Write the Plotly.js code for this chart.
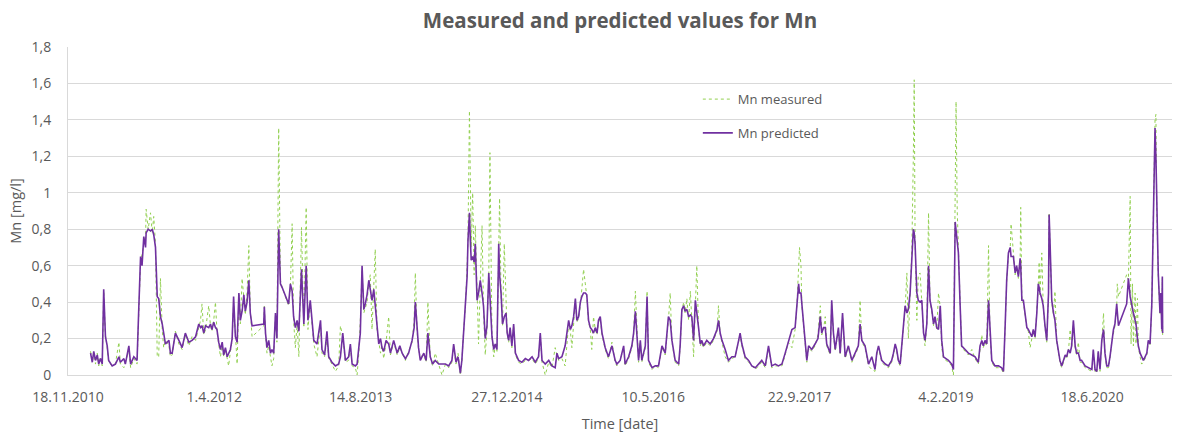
<!DOCTYPE html>
<html>
<head>
<meta charset="utf-8">
<script src="https://cdn.plot.ly/plotly-3.0.1.min.js"></script>
<style>
  html, body { margin: 0; padding: 0; background: #ffffff; }
  #chart { width: 1188px; height: 435px; }
</style>
</head>
<body>
<div id="chart"></div>
<script>
// Days since 18.11.2010 for each sample
const startDate = '2010-11-18';
const dayOffset = [
  77,83,88,94,100,105,111,117,122,128,134,139,151,162,174,179,191,196,208,214,225,236,242,248,253,259,265,267,274,282,288,293,299,305,310,316,322,327,333,345,350,356,367,379,390,401,413,424,436,447,
  453,458,464,470,481,487,492,498,504,509,515,521,527,532,538,544,549,555,561,566,572,578,584,589,595,601,606,612,618,623,629,669,671,675,680,686,692,697,703,709,714,720,726,732,754,760,766,771,777,783,789,798,806,814,820,828,834,840,851,863,868,877,885,891,902,914,925,
  931,939,948,959,965,971,982,988,994,999,1005,1011,1016,1022,1028,1033,1039,1045,1050,1056,1062,1068,1073,1079,1087,1096,1102,1113,1125,1134,1142,1153,1164,1176,1183,1187,1193,1198,1204,1216,1224,1230,1238,1246,1255,1267,1278,1290,1301,1312,1318,1326,1333,1341,1346,1352,1358,1364,1367,1372,1375,1378,1383,1388,
  1392,1398,1403,1409,1415,1420,1426,1432,1438,1442,1449,1455,1460,1466,1472,1475,1480,1485,1491,1497,1501,1506,1511,1517,1523,1529,1540,1551,1563,1574,1586,1597,1608,1614,1620,1631,1643,1654,1665,1671,1677,1688,1699,1711,1717,1722,1728,1734,1739,1745,1751,1756,1762,1768,1773,1779,1785,1790,1796,1802,1808,1813,1819,1825,1836,1847,1859,1870,
  1876,1887,1899,1904,1916,1927,1933,1939,1944,1950,1956,1961,1973,1979,1984,1996,2007,2018,2030,2041,2052,2058,2064,2075,2087,2092,2098,2104,2109,2115,2121,2127,2132,2138,2144,2149,2155,2161,2166,2172,2183,2195,2206,2218,2223,2229,2235,2246,2257,2269,2280,2292,2297,2303,2314,2326,2337,2349,
  2360,2371,2383,2394,2405,2417,2428,2440,2451,2462,2474,2485,2491,2497,2500,2505,2508,2514,2519,2525,2531,2542,2553,2563,2571,2576,2582,2588,2593,2605,2610,2616,2622,2627,2633,2639,2647,2656,2667,2679,2690,2701,2707,2713,2724,2736,2747,2758,2764,2770,2781,2793,2804,2815,2821,
  2827,2832,2838,2844,2850,2855,2861,2867,2872,2878,2884,2889,2892,2895,2901,2906,2912,2918,2924,2929,2935,2941,2946,2952,2958,2963,2969,2975,2981,2986,2992,3009,3020,3026,3032,3035,3039,3043,3049,3054,3066,3077,3089,3100,3111,3117,3123,3128,3134,3140,3146,3151,3157,3168,3180,3191,3197,3203,3208,3214,3220,3223,3231,3237,3242,3248,3254,3256,3260,3265,3271,3277,3282,3288,3294,3299,
  3305,3311,3316,3319,3322,3328,3333,3339,3345,3351,3353,3356,3362,3368,3373,3379,3385,3390,3396,3402,3408,3413,3419,3425,3430,3436,3442,3447,3453,3459,3464,3476,3487,3499,3504,3510,3516,3521,3527,3533,3539,3544,3550,3556,3561,3567,3573,3578,3584,3586,3590,3618,3624,3630,3633,3638,3641,3647,3650,3655,3658,3664,3669,3675,3681,3687,3692,3698,3704,3709,3715,3718,3721,3726,3732,3735,3738,3740,3741
];
const mnPredicted = [
  .12,.07,.13,.08,.11,.06,.09,.06,.47,.21,.16,.08,.05,.06,.10,.07,.09,.06,.16,.06,.10,.08,.37,.65,.60,.76,.70,.78,.80,.79,.80,.77,.70,.43,.42,.32,.28,.23,.17,.19,.12,.12,.23,.19,.15,.23,.18,.19,.21,.28,
  .26,.27,.23,.27,.26,.28,.25,.29,.26,.25,.18,.14,.18,.11,.15,.10,.12,.14,.20,.43,.21,.18,.45,.30,.35,.44,.35,.40,.52,.34,.27,.28,.375,.23,.15,.19,.12,.14,.12,.34,.20,.80,.50,.48,.39,.50,.46,.32,.26,.30,.24,.58,.28,.60,.30,.41,.30,.19,.17,.30,.14,.11,.24,.10,.07,.05,.06,
  .10,.23,.08,.10,.17,.06,.05,.06,.14,.23,.60,.36,.39,.44,.52,.47,.41,.47,.38,.26,.17,.20,.15,.13,.19,.17,.12,.19,.12,.16,.12,.09,.12,.19,.26,.40,.26,.15,.08,.12,.08,.23,.10,.06,.08,.06,.06,.06,.05,.08,.17,.07,.10,.01,.08,.25,.39,.54,.74,.89,.74,.63,.65,.62,
  .72,.41,.45,.52,.45,.38,.20,.27,.56,.45,.21,.14,.17,.14,.72,.55,.45,.28,.32,.34,.23,.19,.26,.16,.28,.12,.08,.07,.09,.08,.10,.07,.10,.23,.08,.06,.08,.05,.04,.12,.09,.10,.16,.30,.25,.27,.32,.42,.30,.32,.40,.43,.45,.45,.44,.30,.26,.25,.23,.26,.23,.30,.32,.23,.15,.10,.16,.08,
  .06,.08,.16,.06,.10,.16,.23,.35,.25,.08,.19,.08,.16,.43,.08,.04,.05,.05,.16,.12,.32,.30,.19,.08,.06,.16,.36,.38,.35,.36,.32,.33,.32,.19,.41,.35,.26,.17,.19,.16,.19,.17,.20,.25,.30,.23,.19,.14,.08,.10,.10,.19,.23,.17,.10,.08,.05,.04,
  .06,.08,.05,.16,.05,.06,.05,.06,.12,.19,.25,.26,.39,.50,.45,.45,.39,.28,.19,.08,.16,.14,.17,.20,.32,.23,.26,.26,.17,.12,.41,.23,.14,.19,.26,.12,.34,.10,.16,.08,.12,.16,.28,.19,.16,.06,.10,.03,.12,.16,.08,.06,.05,.08,.12,
  .17,.14,.08,.06,.19,.28,.38,.34,.36,.45,.67,.80,.78,.72,.45,.41,.40,.41,.23,.19,.28,.60,.41,.36,.28,.32,.26,.25,.38,.19,.10,.08,.06,.03,.84,.80,.74,.67,.38,.16,.14,.12,.11,.10,.07,.16,.19,.16,.19,.17,.41,.23,.08,.05,.05,.04,.02,.28,.52,.67,.70,.65,.65,.56,.60,.54,.64,.60,.41,.41,.34,.26,.25,.23,.21,.25,
  .21,.34,.50,.48,.45,.42,.38,.27,.19,.45,.88,.74,.41,.34,.30,.19,.12,.08,.05,.08,.11,.10,.14,.12,.16,.30,.16,.12,.12,.08,.08,.05,.04,.03,.14,.03,.02,.13,.03,.19,.25,.12,.05,.05,.10,.19,.25,.28,.39,.35,.27,.39,.53,.43,.40,.37,.34,.30,.28,.20,.16,.12,.10,.08,.10,.12,.19,.17,.39,.92,1.355,1.20,.92,.56,.34,.45,.25,.54,.23
];
const mnMeasured = [
  .13,.07,.12,.06,.12,.05,.10,.05,.46,.22,.15,.07,.05,.06,.18,.06,.04,.07,.14,.04,.09,.06,.35,.62,.66,.72,.74,.91,.80,.89,.78,.87,.72,.10,.10,.53,.25,.15,.19,.16,.10,.11,.24,.17,.14,.22,.16,.21,.19,.27,
  .30,.39,.22,.25,.38,.27,.24,.30,.40,.24,.17,.10,.16,.10,.14,.08,.05,.13,.19,.40,.22,.06,.44,.28,.53,.40,.33,.45,.71,.36,.21,.27,.38,.22,.12,.16,.10,.05,.09,.33,.18,1.355,.52,.48,.38,.48,.83,.30,.15,.28,.10,.81,.26,.92,.25,.40,.28,.17,.10,.28,.12,.10,.20,.09,.06,.02,.05,
  .27,.21,.07,.08,.16,.05,.04,.00,.12,.30,.58,.34,.37,.40,.50,.55,.25,.45,.69,.25,.18,.12,.16,.09,.18,.32,.11,.18,.11,.15,.12,.08,.13,.18,.30,.56,.24,.14,.10,.11,.07,.40,.10,.05,.12,.05,.00,.06,.04,.07,.16,.06,.12,.00,.07,.24,.37,.60,.75,1.45,.80,.70,1.00,.55,
  .82,.40,.17,.50,.82,.36,.11,.25,.55,1.22,.20,.10,.16,.13,.70,.97,.44,.27,.72,.33,.22,.18,.25,.15,.27,.11,.07,.06,.08,.08,.09,.06,.09,.22,.07,.00,.07,.04,.15,.11,.08,.09,.05,.28,.24,.15,.31,.41,.29,.31,.38,.48,.58,.50,.43,.29,.25,.14,.32,.25,.22,.29,.31,.22,.14,.09,.18,.07,
  .05,.08,.15,.05,.09,.15,.22,.46,.24,.07,.18,.07,.15,.46,.07,.03,.05,.04,.15,.11,.30,.45,.18,.07,.05,.15,.35,.40,.34,.42,.30,.46,.30,.10,.38,.60,.25,.16,.18,.15,.18,.16,.19,.24,.38,.22,.18,.10,.07,.09,.10,.18,.22,.16,.09,.07,.05,.03,
  .05,.07,.04,.15,.04,.05,.05,.05,.11,.18,.15,.25,.38,.55,.70,.60,.38,.27,.18,.07,.15,.13,.16,.22,.38,.22,.25,.32,.16,.11,.40,.22,.13,.18,.25,.11,.33,.09,.15,.07,.11,.15,.41,.18,.15,.05,.03,.02,.11,.15,.07,.05,.04,.07,.11,
  .16,.13,.07,.05,.18,.27,.37,.56,.20,.44,.70,1.20,1.62,.74,.30,.55,.56,.40,.22,.16,.27,.89,.40,.35,.27,.31,.25,.45,.37,.15,.09,.07,.05,.00,.80,1.50,.90,.66,.37,.15,.13,.11,.14,.09,.06,.15,.22,.15,.18,.16,.71,.22,.07,.04,.04,.03,.01,.27,.51,.66,.69,.83,.64,.55,.59,.53,.63,.92,.40,.40,.33,.25,.24,.15,.20,.24,
  .20,.33,.49,.62,.44,.67,.37,.26,.18,.44,.89,.73,.40,.33,.46,.18,.11,.07,.04,.07,.10,.09,.13,.25,.15,.29,.15,.11,.18,.07,.07,.04,.03,.02,.13,.02,.01,.12,.02,.18,.34,.11,.04,.04,.09,.18,.24,.27,.38,.50,.43,.55,.52,.98,.17,.50,.16,.45,.17,.42,.15,.11,.06,.07,.09,.11,.18,.16,.38,.95,1.40,1.43,.90,.55,.33,.44,.24,.53,.22
];
const tickDates = ['2010-11-18','2012-04-01','2013-08-14','2014-12-27','2016-05-10','2017-09-22','2019-02-04','2020-06-18'];
const tickLabels = ['18.11.2010','1.4.2012','14.8.2013','27.12.2014','10.5.2016','22.9.2017','4.2.2019','18.6.2020'];
const yTicks = [0, 0.2, 0.4, 0.6, 0.8, 1, 1.2, 1.4, 1.6, 1.8];

const t0 = Date.parse(startDate + 'T00:00:00Z');
const dates = dayOffset.map(d => new Date(t0 + d * 86400000).toISOString().slice(0, 10));

const textColor = '#595959';
const fontFam = '"Open Sans", "Liberation Sans", Arial, sans-serif';

const traces = [
  {
    x: dates, y: mnMeasured, type: 'scatter', mode: 'lines', name: 'Mn measured',
    line: { color: '#92D050', width: 1, dash: 'dot' },
    legend: 'legend'
  },
  {
    x: dates, y: mnPredicted, type: 'scatter', mode: 'lines', name: 'Mn predicted',
    line: { color: '#7030A0', width: 1.6 },
    legend: 'legend2'
  }
];

const layout = {
  width: 1188, height: 435,
  margin: { l: 67.5, r: 16, t: 47, b: 60, pad: 0 },
  paper_bgcolor: '#ffffff', plot_bgcolor: '#ffffff',
  separators: ', ',
  font: { family: fontFam, color: textColor, size: 14 },
  title: {
    text: '<b>Measured and predicted values for Mn</b>',
    font: { family: fontFam, size: 20.5, color: textColor },
    x: 0.5, xref: 'paper', y: 0.952, yref: 'container', yanchor: 'middle'
  },
  xaxis: {
    type: 'date',
    range: ['2010-11-18', '2021-03-18'],
    tickvals: tickDates, ticktext: tickLabels,
    showgrid: false, zeroline: false,
    showline: true, linecolor: '#D9D9D9', linewidth: 1,
    ticks: 'outside', ticklen: 9, tickcolor: 'rgba(0,0,0,0)',
    tickfont: { size: 14, color: textColor, family: fontFam },
    title: { text: 'Time [date]', font: { size: 14.5, color: textColor, family: fontFam }, standoff: 14 }
  },
  yaxis: {
    range: [0, 1.8],
    tickvals: yTicks,
    showgrid: true, gridcolor: '#D9D9D9', gridwidth: 1,
    zeroline: false,
    showline: true, linecolor: '#D9D9D9', linewidth: 1,
    ticks: 'outside', ticklen: 13, tickcolor: 'rgba(0,0,0,0)',
    tickfont: { size: 14, color: textColor, family: fontFam },
    title: { text: 'Mn [mg/l]', font: { size: 14.5, color: textColor, family: fontFam }, standoff: 6 }
  },
  legend: {
    x: 0.5705, y: 0.841, xanchor: 'left', yanchor: 'middle',
    bgcolor: 'rgba(0,0,0,0)', borderwidth: 0,
    font: { size: 13, color: textColor, family: fontFam }
  },
  legend2: {
    x: 0.5705, y: 0.738, xanchor: 'left', yanchor: 'middle',
    bgcolor: 'rgba(0,0,0,0)', borderwidth: 0,
    font: { size: 13, color: textColor, family: fontFam }
  },
  showlegend: true,
  hovermode: false
};

Plotly.newPlot('chart', traces, layout, { staticPlot: true, displayModeBar: false });
</script>
</body>
</html>
